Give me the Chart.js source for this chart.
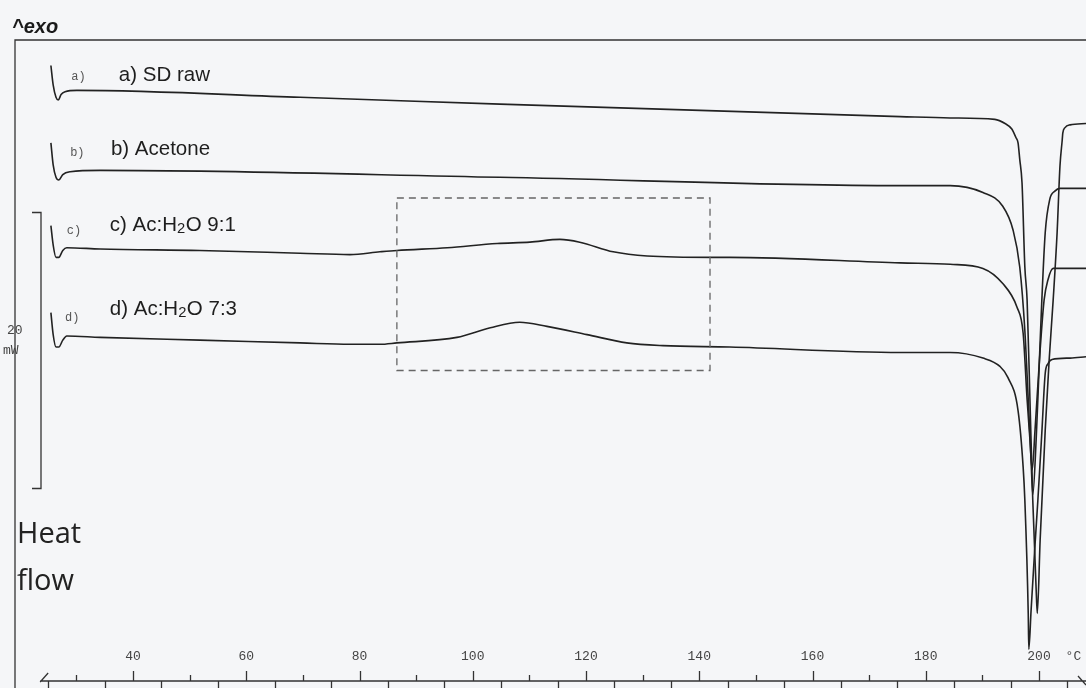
<!DOCTYPE html>
<html lang="en">
<head>
<meta charset="utf-8">
<title>DSC thermograms</title>
<script src="https://cdn.jsdelivr.net/npm/chart.js@4.4.1/dist/chart.umd.min.js"></script>
<style>
  html, body { margin: 0; padding: 0; background: #f5f6f8; }
  #holder { width: 1086px; height: 688px; }
</style>
</head>
<body>
<div id="holder"><canvas id="chart" width="1086" height="688"></canvas></div>
<script>
// temperature (°C) / heat flow (mW, arbitrary offset)
const tempA = [25.5, 25.9, 26.4, 26.8, 27.3, 28.0, 30.1, 69.5, 104.8, 175.5, 184.3, 192.2, 194.0, 195.2, 195.9, 196.3, 196.6, 197.0, 197.5, 197.9, 198.4, 198.9, 199.5, 199.7, 200.2, 201.1, 201.8, 202.5, 203.2, 203.7, 204.1, 204.2, 204.6, 205.5, 208.3];
const flowA = [44.6, 43.2, 42.3, 42.1, 42.5, 42.7, 42.8, 42.3, 41.8, 40.9, 40.8, 40.7, 40.4, 40.0, 39.4, 39.0, 37.8, 36.1, 30.0, 27.6, 20.4, 13.1, 6.6, 4.9, 10.2, 18.2, 23.3, 27.6, 32.5, 37.3, 39.2, 39.7, 40.1, 40.3, 40.4];

const tempB = [25.5, 25.9, 26.4, 26.9, 27.6, 28.9, 34.2, 104.8, 175.5, 184.3, 190.1, 193.6, 195.4, 196.6, 197.5, 198.1, 198.6, 198.9, 199.5, 200.0, 200.5, 201.1, 201.9, 202.8, 203.7, 208.3];
const flowB = [39.0, 37.4, 36.5, 36.3, 36.7, 36.9, 37.0, 36.5, 35.9, 35.9, 35.4, 34.4, 32.7, 30.0, 25.4, 20.4, 16.0, 13.5, 17.5, 22.5, 27.6, 32.5, 34.9, 35.5, 35.7, 35.7];

const tempC = [25.5, 25.9, 26.4, 26.9, 27.6, 28.3, 34.2, 51.8, 69.5, 78.3, 83.6, 86.6, 95.5, 104.3, 110.1, 115.4, 118.9, 124.8, 130.8, 142.4, 145.4, 175.5, 184.3, 190.1, 193.6, 196.1, 197.2, 197.9, 198.4, 198.8, 199.3, 200.2, 200.9, 201.6, 202.5, 208.3];
const flowC = [33.0, 31.6, 30.7, 30.7, 31.2, 31.4, 31.3, 31.2, 31.0, 30.9, 31.1, 31.2, 31.4, 31.7, 31.8, 32.0, 31.8, 31.1, 30.8, 30.7, 30.7, 30.3, 30.2, 29.9, 28.8, 27.1, 25.2, 20.4, 17.5, 15.3, 18.2, 24.0, 27.6, 29.1, 29.9, 29.9];

const tempD = [25.5, 25.9, 26.4, 26.9, 27.6, 28.3, 34.2, 51.8, 69.5, 78.3, 83.6, 86.6, 97.2, 103.1, 108.3, 113.1, 120.2, 127.2, 133.6, 145.4, 175.5, 184.3, 190.1, 193.1, 194.5, 196.3, 197.2, 197.5, 198.1, 198.2, 198.6, 199.3, 199.8, 200.5, 201.1, 201.6, 202.3, 205.5, 208.3];
const flowD = [26.7, 25.1, 24.2, 24.2, 24.7, 25.0, 24.9, 24.7, 24.5, 24.4, 24.4, 24.5, 24.9, 25.6, 26.0, 25.7, 25.1, 24.5, 24.3, 24.2, 23.8, 23.8, 23.4, 22.8, 22.0, 19.6, 15.5, 13.1, 4.9, 2.3, 5.1, 9.9, 13.1, 18.0, 22.3, 23.0, 23.3, 23.4, 23.5];

const tickLabels = [40, 60, 80, 100, 120, 140, 160, 180, 200];
const curveLabels = ['a) SD raw', 'b) Acetone', 'c) Ac:H|2|O 9:1', 'd) Ac:H|2|O 7:3'];
const labelTemp = [37.5, 36.1, 35.9, 35.9];
const labelFlow = [43.9, 38.5, 33.0, 26.9];
const curveTags = ['a)', 'b)', 'c)', 'd)'];
const tagTemp = [29.1, 28.9, 28.3, 28.0];
const tagFlow = [43.8, 38.3, 32.6, 26.3];
const boxTemp = [86.6, 141.9];
const boxFlow = [22.5, 35.0];
const scaleBar = [14.0, 34.0]; // 20 mW

function pts(t, f) { return t.map((v, i) => ({ x: v, y: f[i] })); }

function series(t, f) {
  return {
    data: pts(t, f),
    borderColor: '#222',
    borderWidth: 1.6,
    pointRadius: 0,
    fill: false,
    cubicInterpolationMode: 'monotone'
  };
}

// labels with a small subscript part between |...|
function drawRich(ctx, text, x, y, size) {
  const parts = text.split('|');
  let cx = x;
  parts.forEach((p, i) => {
    const sub = i % 2 === 1;
    ctx.font = (sub ? size * 0.72 : size) + 'px "Liberation Sans", Arial, sans-serif';
    ctx.fillText(p, cx, sub ? y + 3 : y);
    cx += ctx.measureText(p).width + (sub ? 0.5 : 0);
  });
}

const decor = {
  id: 'decor',
  beforeDraw(chart) {
    const ctx = chart.ctx;
    ctx.save();
    ctx.fillStyle = '#f5f6f8';
    ctx.fillRect(0, 0, chart.width, chart.height);
    ctx.restore();
  },
  afterDraw(chart) {
    const { ctx, chartArea: a, scales: { x, y } } = chart;
    ctx.save();
    ctx.strokeStyle = '#333';
    ctx.lineWidth = 1.3;

    // frame
    ctx.beginPath();
    ctx.moveTo(a.left, chart.height);
    ctx.lineTo(a.left, a.top);
    ctx.lineTo(chart.width, a.top);
    ctx.stroke();

    // bottom temperature axis
    const ax = a.bottom;
    const x0 = x.getPixelForValue(23.6);
    ctx.beginPath();
    ctx.moveTo(x0, ax);
    ctx.lineTo(chart.width, ax);
    ctx.moveTo(x0, ax + 1);
    ctx.lineTo(x0 + 8, ax - 8);
    ctx.moveTo(chart.width - 8, ax - 5);
    ctx.lineTo(chart.width, ax + 4);
    for (let t = 25; t <= 205; t += 5) {
      const px = Math.round(x.getPixelForValue(t)) + 0.5;
      ctx.moveTo(px, ax);
      if (t % 20 === 0) ctx.lineTo(px, ax - 10);
      else if (t % 10 === 0) ctx.lineTo(px, ax - 6);
      else ctx.lineTo(px, ax + 8);
    }
    ctx.stroke();

    ctx.fillStyle = '#444';
    ctx.font = '13px "Liberation Mono", "Courier New", monospace';
    ctx.textAlign = 'center';
    ctx.textBaseline = 'middle';
    tickLabels.forEach(t => ctx.fillText(String(t), x.getPixelForValue(t), ax - 24));
    ctx.textAlign = 'left';
    ctx.fillText('°C', x.getPixelForValue(204.7), ax - 24);

    // scale bar 20 mW
    const sx = a.left + 26;
    const yTop = Math.round(y.getPixelForValue(scaleBar[1])) + 0.5;
    const yBot = Math.round(y.getPixelForValue(scaleBar[0])) + 0.5;
    ctx.beginPath();
    ctx.moveTo(sx - 9, yTop);
    ctx.lineTo(sx, yTop);
    ctx.lineTo(sx, yBot);
    ctx.lineTo(sx - 9, yBot);
    ctx.stroke();
    ctx.font = '13px "Liberation Mono", "Courier New", monospace';
    ctx.fillStyle = '#444';
    ctx.fillText('20', 7, (yTop + yBot) / 2 - 20);
    ctx.fillText('mW', 3, (yTop + yBot) / 2);

    // dashed region
    ctx.strokeStyle = '#666';
    ctx.lineWidth = 1.3;
    ctx.setLineDash([7, 5]);
    const bx1 = x.getPixelForValue(boxTemp[0]), bx2 = x.getPixelForValue(boxTemp[1]);
    const by1 = y.getPixelForValue(boxFlow[1]), by2 = y.getPixelForValue(boxFlow[0]);
    ctx.strokeRect(bx1, by1, bx2 - bx1, by2 - by1);
    ctx.setLineDash([]);

    // curve tags and names
    ctx.fillStyle = '#555';
    ctx.font = '12px "Liberation Mono", "Courier New", monospace';
    curveTags.forEach((s, i) => ctx.fillText(s, x.getPixelForValue(tagTemp[i]), y.getPixelForValue(tagFlow[i])));
    ctx.fillStyle = '#1e1e1e';
    curveLabels.forEach((s, i) => drawRich(ctx, s, x.getPixelForValue(labelTemp[i]), y.getPixelForValue(labelFlow[i]), 20.5));

    // exo marker and axis title
    ctx.fillStyle = '#1a1a1a';
    ctx.font = 'italic 900 20px "Liberation Sans", Arial, sans-serif';
    ctx.fillText('^exo', 12, 27);
    ctx.font = '29px "Open Sans", sans-serif';
    ctx.fillStyle = '#222';
    ctx.fillText('Heat', 17, 535);
    ctx.fillText('flow', 17, 582);
    ctx.restore();
  }
};

new Chart(document.getElementById('chart'), {
  type: 'line',
  data: {
    datasets: [series(tempA, flowA), series(tempB, flowB), series(tempC, flowC), series(tempD, flowD)]
  },
  options: {
    responsive: false,
    animation: false,
    layout: { padding: { left: 15, top: 40, right: 0, bottom: 7 } },
    plugins: { legend: { display: false }, tooltip: { enabled: false } },
    scales: {
      x: { type: 'linear', min: 19.16, max: 208.3, display: false },
      y: { type: 'linear', min: 0, max: 46.45, display: false }
    }
  },
  plugins: [decor]
});
</script>
</body>
</html>
